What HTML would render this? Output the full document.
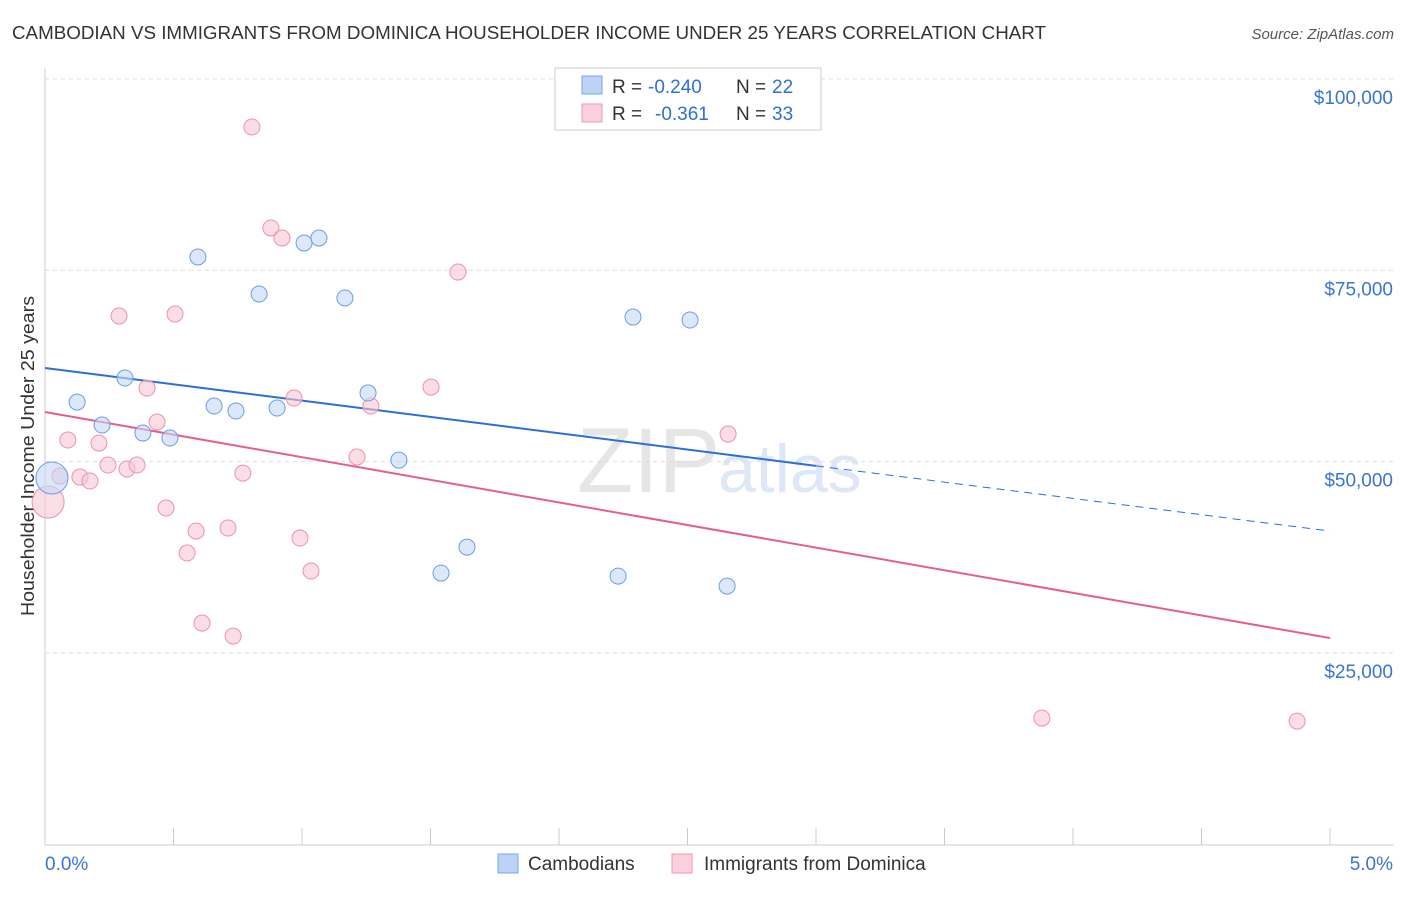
<!DOCTYPE html>
<html><head><meta charset="utf-8"><style>
body{margin:0;background:#fff;font-family:"Liberation Sans",sans-serif;}
svg text{font-family:"Liberation Sans",sans-serif;}
</style></head><body>
<svg id="chart" width="1406" height="892" xmlns="http://www.w3.org/2000/svg">
<text x="12" y="39" font-size="18" fill="#333" textLength="1034" lengthAdjust="spacingAndGlyphs">CAMBODIAN VS IMMIGRANTS FROM DOMINICA HOUSEHOLDER INCOME UNDER 25 YEARS CORRELATION CHART</text>
<text x="1394" y="39" font-size="15" fill="#555" text-anchor="end" font-style="italic">Source: ZipAtlas.com</text>
<text transform="translate(34,456) rotate(-90)" font-size="18" fill="#333" text-anchor="middle" textLength="320" lengthAdjust="spacingAndGlyphs">Householder Income Under 25 years</text>
<text x="720" y="492" font-size="92" fill="#e6e6e6" text-anchor="end" font-family="Liberation Serif">ZIP</text>
<text x="718" y="492" font-size="68" fill="#dde7f5">atlas</text>
<g id="grid"></g><g id="axes"></g><g id="lines"></g><g id="points"></g>
<g>
<rect x="555" y="68" width="266" height="62" fill="#fff" stroke="#ccc"/>
<rect x="582" y="76" width="20" height="18" fill="#bcd3f5" stroke="#7aa6e8"/>
<text x="612" y="93" font-size="19" fill="#333">R =</text>
<text x="648" y="93" font-size="19" fill="#2f6fd6">-0.240</text>
<text x="736" y="93" font-size="19" fill="#333">N =</text>
<text x="772" y="93" font-size="19" fill="#2f6fd6">22</text>
<rect x="582" y="104" width="20" height="18" fill="#fbd0dc" stroke="#ee9ab2"/>
<text x="612" y="120" font-size="19" fill="#333">R =</text>
<text x="655" y="120" font-size="19" fill="#2f6fd6">-0.361</text>
<text x="736" y="120" font-size="19" fill="#333">N =</text>
<text x="772" y="120" font-size="19" fill="#2f6fd6">33</text>
</g>
<g>
<rect x="498" y="854" width="20" height="19" fill="#bcd3f5" stroke="#7aa6e8"/>
<text x="528" y="870" font-size="19" fill="#333">Cambodians</text>
<rect x="672" y="854" width="20" height="19" fill="#fbd0dc" stroke="#ee9ab2"/>
<text x="704" y="870" font-size="19" fill="#333">Immigrants from Dominica</text>
</g>
</svg>
<script>
const yTicks=[25000,50000,75000,100000];
const yTickLabels=["$25,000","$50,000","$75,000","$100,000"];
const xTickLabels=["0.0%","5.0%"];
const blueX=[0.027,0.125,0.222,0.311,0.381,0.486,0.595,0.658,0.743,0.833,0.903,1.008,1.066,1.167,1.257,1.377,1.541,1.642,2.230,2.288,2.510,2.654];
const blueY=[47850,57780,54780,60920,53730,53080,76740,57260,56610,71900,57000,78570,79220,71380,58960,50200,35430,38830,35040,68890,68500,33730];
const pinkX=[0.012,0.058,0.089,0.136,0.175,0.210,0.245,0.288,0.319,0.358,0.397,0.436,0.471,0.506,0.553,0.588,0.611,0.712,0.732,0.770,0.805,0.879,0.922,0.969,0.992,1.035,1.214,1.268,1.502,1.607,2.658,3.879,4.872];
const pinkY=[44710,48110,52820,47980,47460,52420,49550,69020,49030,49550,59610,55170,43930,69290,38050,40920,28900,41320,27200,48500,93730,80530,79220,58310,40010,35700,50600,57260,59740,74770,53600,16480,16090];
const blueTrend=[62230,40925];
const pinkTrend=[56480,26940];
const blueSolidEnd=3.0;
const NS="http://www.w3.org/2000/svg";
const X=p=>45+p*257;
const Y=v=>79+(100000-v)*191.3/25000;
function mk(tag,attrs,parent){const e=document.createElementNS(NS,tag);for(const k in attrs)e.setAttribute(k,attrs[k]);document.getElementById(parent).appendChild(e);return e;}
yTicks.forEach((t,i)=>{
 const l=mk('line',{x1:45,x2:1394,y1:Y(t),y2:Y(t),stroke:'#ddd','stroke-dasharray':'4,4'},'grid');
 
 
 const tx=mk('text',{x:1393,y:Y(t)+25,'font-size':19,fill:'#3a74d4','text-anchor':'end'},'axes');
 tx.textContent=yTickLabels[i];
 
 
});
const ya=mk('line',{x1:45,x2:45,y1:68,y2:845,stroke:'#ccc'},'axes');


const xa=mk('line',{x1:45,x2:1394,y1:845,y2:845,stroke:'#ccc'},'axes');


for(let i=1;i<=10;i++){const t=mk('line',{x1:X(i*0.5),x2:X(i*0.5),y1:828,y2:845,stroke:'#ccc'},'axes');
 
 }
const x0=mk('text',{x:45,y:870,'font-size':19,fill:'#3a74d4'},'axes');x0.textContent=xTickLabels[0];


const x1=mk('text',{x:1393,y:870,'font-size':19,fill:'#3a74d4','text-anchor':'end'},'axes');x1.textContent=xTickLabels[1];


const bv=v=>blueTrend[0]+(blueTrend[1]-blueTrend[0])*v/5;
const pv=v=>pinkTrend[0]+(pinkTrend[1]-pinkTrend[0])*v/5;
const b1=mk('line',{x1:X(0),y1:Y(bv(0)),x2:X(blueSolidEnd),y2:Y(bv(blueSolidEnd)),stroke:'#2a6fd6','stroke-width':2},'lines');


const b2=mk('line',{x1:X(blueSolidEnd),y1:Y(bv(blueSolidEnd)),x2:X(5),y2:Y(bv(5)),stroke:'#2a6fd6','stroke-width':1,'stroke-dasharray':'8,6'},'lines');


const p1=mk('line',{x1:X(0),y1:Y(pv(0)),x2:X(5),y2:Y(pv(5)),stroke:'#e4608a','stroke-width':2},'lines');


function pts(xs,ys,fill,stroke,name){xs.forEach((x,i)=>{
 const c=mk('circle',{cx:X(x),cy:Y(ys[i]),r:i===0?16:8,fill:fill,stroke:stroke,'stroke-width':1,'fill-opacity':0.6},'points');
 
 
});}
pts(pinkX,pinkY,'#f8c6d4','#eb93ad','dominica-point');
pts(blueX,blueY,'#c4d8f5','#6d9de3','cambodian-point');
</script>
</body></html>
